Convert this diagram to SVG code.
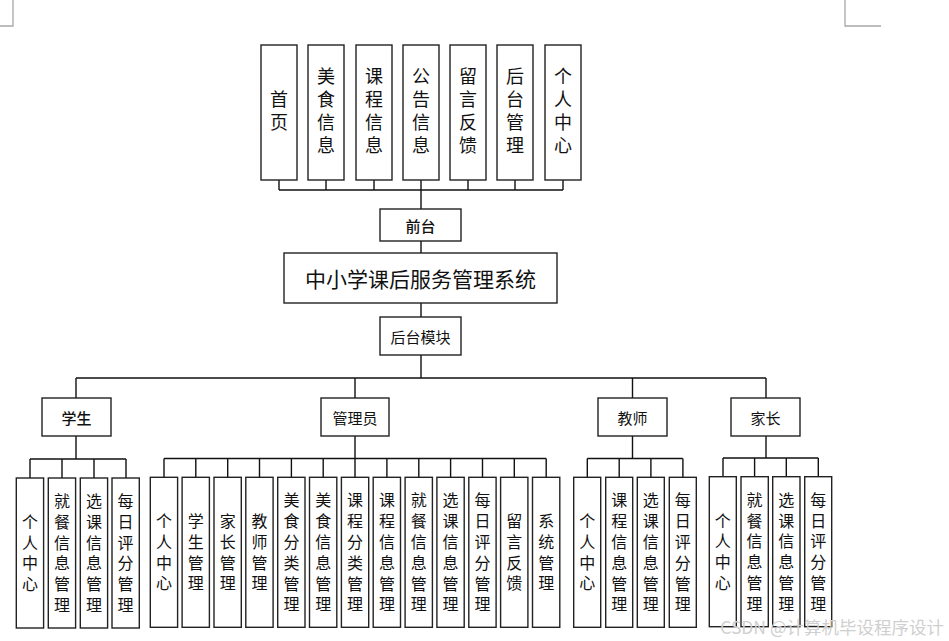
<svg xmlns="http://www.w3.org/2000/svg" width="949" height="641" viewBox="0 0 949 641">
<style>
.box{fill:#fff;stroke:#222;stroke-width:1.4}
.ln{fill:none;stroke:#111;stroke-width:1.4}
.crn{fill:none;stroke:#a8a8a8;stroke-width:1.3}
text{font-family:"Noto Sans CJK SC","Noto Sans",sans-serif;fill:#111;text-anchor:middle;dominant-baseline:central}
.top{font-size:18px;font-family:"Liberation Sans","Noto Sans CJK SC",sans-serif}
.mid{font-size:15px}
.title{font-size:21px}
.leaf{font-size:16px;font-family:"Liberation Sans","Noto Sans CJK SC",sans-serif}
.wm{font-size:17.5px;fill:#cfcfcf;text-anchor:end}
</style>
<rect width="949" height="641" fill="#fff"/>
<path class="crn" d="M13,0V26H0M845,0V26H881"/>
<g id="connectors">
<path class="ln" d="M279,180V190M326,180V190M374,180V190M421,180V190M468,180V190M515,180V190M563,180V190M279,190H563M421,190V209M421,241V253M421,303V317M421,355V378"/>
<path class="ln" d="M76,378H766M76,378V398M355,378V398M632.5,378V398M766,378V398"/>
<path class="ln" d="M76,436V459M30,459H126M30,459V478M62,459V478M94,459V478M126,459V478"/>
<path class="ln" d="M355,436V458.5M164,458.5H546.2M164,458.5V477.3M195.8,458.5V477.3M227.7,458.5V477.3M259.5,458.5V477.3M291.4,458.5V477.3M323.2,458.5V477.3M355,458.5V477.3M386.9,458.5V477.3M418.8,458.5V477.3M450.6,458.5V477.3M482.5,458.5V477.3M514.3,458.5V477.3M546.2,458.5V477.3"/>
<path class="ln" d="M632.5,436V458.5M587.3,458.5H682.7M587.3,458.5V477.3M619.2,458.5V477.3M650.9,458.5V477.3M682.9,458.5V477.3"/>
<path class="ln" d="M766,436V458M723,458H818.3M723,458V476.7M754.6,458V476.7M786.3,458V476.7M818.3,458V476.7"/>
</g>
<g id="n_home"><rect class="box" x="261" y="45" width="36" height="135"/><text class="top"><tspan x="279" y="99.5">首</tspan><tspan x="279" dy="23">页</tspan></text></g>
<g id="n_food"><rect class="box" x="308" y="45" width="36" height="135"/><text class="top"><tspan x="326" y="76.5">美</tspan><tspan x="326" dy="23">食</tspan><tspan x="326" dy="23">信</tspan><tspan x="326" dy="23">息</tspan></text></g>
<g id="n_course"><rect class="box" x="356" y="45" width="36" height="135"/><text class="top"><tspan x="374" y="76.5">课</tspan><tspan x="374" dy="23">程</tspan><tspan x="374" dy="23">信</tspan><tspan x="374" dy="23">息</tspan></text></g>
<g id="n_notice"><rect class="box" x="403" y="45" width="36" height="135"/><text class="top"><tspan x="421" y="76.5">公</tspan><tspan x="421" dy="23">告</tspan><tspan x="421" dy="23">信</tspan><tspan x="421" dy="23">息</tspan></text></g>
<g id="n_msg"><rect class="box" x="450" y="45" width="36" height="135"/><text class="top"><tspan x="468" y="76.5">留</tspan><tspan x="468" dy="23">言</tspan><tspan x="468" dy="23">反</tspan><tspan x="468" dy="23">馈</tspan></text></g>
<g id="n_back"><rect class="box" x="497" y="45" width="36" height="135"/><text class="top"><tspan x="515" y="76.5">后</tspan><tspan x="515" dy="23">台</tspan><tspan x="515" dy="23">管</tspan><tspan x="515" dy="23">理</tspan></text></g>
<g id="n_me"><rect class="box" x="545" y="45" width="36" height="135"/><text class="top"><tspan x="563" y="76.5">个</tspan><tspan x="563" dy="23">人</tspan><tspan x="563" dy="23">中</tspan><tspan x="563" dy="23">心</tspan></text></g>
<g id="n_front"><rect class="box" x="380" y="209" width="81" height="32"/><text class="mid" x="420.5" y="225" font-weight="500">前台</text></g>
<g id="n_sys"><rect class="box" x="284" y="253" width="273" height="50"/><text class="title" x="420.5" y="278">中小学课后服务管理系统</text></g>
<g id="n_backend"><rect class="box" x="380" y="317" width="81" height="38"/><text class="mid" x="420.5" y="336">后台模块</text></g>
<g id="n_student"><rect class="box" x="42" y="398" width="69" height="38"/><text class="mid" x="76.5" y="417" font-weight="500">学生</text></g>
<g id="n_admin"><rect class="box" x="321" y="398" width="68" height="38"/><text class="mid" x="355" y="417">管理员</text></g>
<g id="n_teacher"><rect class="box" x="598" y="398" width="69" height="38"/><text class="mid" x="632.5" y="417">教师</text></g>
<g id="n_parent"><rect class="box" x="731" y="398" width="69" height="38"/><text class="mid" x="765.5" y="417">家长</text></g>
<g id="s1"><rect class="box" x="16.3" y="478" width="27.3" height="150"/><text class="leaf"><tspan x="30" y="521.8">个</tspan><tspan x="30" dy="20.8">人</tspan><tspan x="30" dy="20.8">中</tspan><tspan x="30" dy="20.8">心</tspan></text></g>
<g id="s2"><rect class="box" x="48.3" y="478" width="27.3" height="150"/><text class="leaf"><tspan x="62" y="501">就</tspan><tspan x="62" dy="20.8">餐</tspan><tspan x="62" dy="20.8">信</tspan><tspan x="62" dy="20.8">息</tspan><tspan x="62" dy="20.8">管</tspan><tspan x="62" dy="20.8">理</tspan></text></g>
<g id="s3"><rect class="box" x="80.3" y="478" width="27.3" height="150"/><text class="leaf"><tspan x="94" y="501">选</tspan><tspan x="94" dy="20.8">课</tspan><tspan x="94" dy="20.8">信</tspan><tspan x="94" dy="20.8">息</tspan><tspan x="94" dy="20.8">管</tspan><tspan x="94" dy="20.8">理</tspan></text></g>
<g id="s4"><rect class="box" x="112" y="478" width="27.3" height="150"/><text class="leaf"><tspan x="125.6" y="501">每</tspan><tspan x="125.6" dy="20.8">日</tspan><tspan x="125.6" dy="20.8">评</tspan><tspan x="125.6" dy="20.8">分</tspan><tspan x="125.6" dy="20.8">管</tspan><tspan x="125.6" dy="20.8">理</tspan></text></g>
<g id="a1"><rect class="box" x="150.3" y="477.3" width="27.3" height="150"/><text class="leaf"><tspan x="164" y="521">个</tspan><tspan x="164" dy="20.8">人</tspan><tspan x="164" dy="20.8">中</tspan><tspan x="164" dy="20.8">心</tspan></text></g>
<g id="a2"><rect class="box" x="182.1" y="477.3" width="27.3" height="150"/><text class="leaf"><tspan x="195.8" y="521">学</tspan><tspan x="195.8" dy="20.8">生</tspan><tspan x="195.8" dy="20.8">管</tspan><tspan x="195.8" dy="20.8">理</tspan></text></g>
<g id="a3"><rect class="box" x="214" y="477.3" width="27.3" height="150"/><text class="leaf"><tspan x="227.7" y="521">家</tspan><tspan x="227.7" dy="20.8">长</tspan><tspan x="227.7" dy="20.8">管</tspan><tspan x="227.7" dy="20.8">理</tspan></text></g>
<g id="a4"><rect class="box" x="245.8" y="477.3" width="27.3" height="150"/><text class="leaf"><tspan x="259.5" y="521">教</tspan><tspan x="259.5" dy="20.8">师</tspan><tspan x="259.5" dy="20.8">管</tspan><tspan x="259.5" dy="20.8">理</tspan></text></g>
<g id="a5"><rect class="box" x="277.7" y="477.3" width="27.3" height="150"/><text class="leaf"><tspan x="291.4" y="500.3">美</tspan><tspan x="291.4" dy="20.8">食</tspan><tspan x="291.4" dy="20.8">分</tspan><tspan x="291.4" dy="20.8">类</tspan><tspan x="291.4" dy="20.8">管</tspan><tspan x="291.4" dy="20.8">理</tspan></text></g>
<g id="a6"><rect class="box" x="309.5" y="477.3" width="27.3" height="150"/><text class="leaf"><tspan x="323.2" y="500.3">美</tspan><tspan x="323.2" dy="20.8">食</tspan><tspan x="323.2" dy="20.8">信</tspan><tspan x="323.2" dy="20.8">息</tspan><tspan x="323.2" dy="20.8">管</tspan><tspan x="323.2" dy="20.8">理</tspan></text></g>
<g id="a7"><rect class="box" x="341.4" y="477.3" width="27.3" height="150"/><text class="leaf"><tspan x="355" y="500.3">课</tspan><tspan x="355" dy="20.8">程</tspan><tspan x="355" dy="20.8">分</tspan><tspan x="355" dy="20.8">类</tspan><tspan x="355" dy="20.8">管</tspan><tspan x="355" dy="20.8">理</tspan></text></g>
<g id="a8"><rect class="box" x="373.2" y="477.3" width="27.3" height="150"/><text class="leaf"><tspan x="386.9" y="500.3">课</tspan><tspan x="386.9" dy="20.8">程</tspan><tspan x="386.9" dy="20.8">信</tspan><tspan x="386.9" dy="20.8">息</tspan><tspan x="386.9" dy="20.8">管</tspan><tspan x="386.9" dy="20.8">理</tspan></text></g>
<g id="a9"><rect class="box" x="405.1" y="477.3" width="27.3" height="150"/><text class="leaf"><tspan x="418.8" y="500.3">就</tspan><tspan x="418.8" dy="20.8">餐</tspan><tspan x="418.8" dy="20.8">信</tspan><tspan x="418.8" dy="20.8">息</tspan><tspan x="418.8" dy="20.8">管</tspan><tspan x="418.8" dy="20.8">理</tspan></text></g>
<g id="a10"><rect class="box" x="436.9" y="477.3" width="27.3" height="150"/><text class="leaf"><tspan x="450.6" y="500.3">选</tspan><tspan x="450.6" dy="20.8">课</tspan><tspan x="450.6" dy="20.8">信</tspan><tspan x="450.6" dy="20.8">息</tspan><tspan x="450.6" dy="20.8">管</tspan><tspan x="450.6" dy="20.8">理</tspan></text></g>
<g id="a11"><rect class="box" x="468.8" y="477.3" width="27.3" height="150"/><text class="leaf"><tspan x="482.5" y="500.3">每</tspan><tspan x="482.5" dy="20.8">日</tspan><tspan x="482.5" dy="20.8">评</tspan><tspan x="482.5" dy="20.8">分</tspan><tspan x="482.5" dy="20.8">管</tspan><tspan x="482.5" dy="20.8">理</tspan></text></g>
<g id="a12"><rect class="box" x="500.6" y="477.3" width="27.3" height="150"/><text class="leaf"><tspan x="514.3" y="521">留</tspan><tspan x="514.3" dy="20.8">言</tspan><tspan x="514.3" dy="20.8">反</tspan><tspan x="514.3" dy="20.8">馈</tspan></text></g>
<g id="a13"><rect class="box" x="532.5" y="477.3" width="27.3" height="150"/><text class="leaf"><tspan x="546.2" y="521">系</tspan><tspan x="546.2" dy="20.8">统</tspan><tspan x="546.2" dy="20.8">管</tspan><tspan x="546.2" dy="20.8">理</tspan></text></g>
<g id="t1"><rect class="box" x="573.7" y="477.3" width="27" height="150"/><text class="leaf"><tspan x="587.2" y="521">个</tspan><tspan x="587.2" dy="20.8">人</tspan><tspan x="587.2" dy="20.8">中</tspan><tspan x="587.2" dy="20.8">心</tspan></text></g>
<g id="t2"><rect class="box" x="605.7" y="477.3" width="27" height="150"/><text class="leaf"><tspan x="619.2" y="500.3">课</tspan><tspan x="619.2" dy="20.8">程</tspan><tspan x="619.2" dy="20.8">信</tspan><tspan x="619.2" dy="20.8">息</tspan><tspan x="619.2" dy="20.8">管</tspan><tspan x="619.2" dy="20.8">理</tspan></text></g>
<g id="t3"><rect class="box" x="637.3" y="477.3" width="27" height="150"/><text class="leaf"><tspan x="650.8" y="500.3">选</tspan><tspan x="650.8" dy="20.8">课</tspan><tspan x="650.8" dy="20.8">信</tspan><tspan x="650.8" dy="20.8">息</tspan><tspan x="650.8" dy="20.8">管</tspan><tspan x="650.8" dy="20.8">理</tspan></text></g>
<g id="t4"><rect class="box" x="669.3" y="477.3" width="27" height="150"/><text class="leaf"><tspan x="682.8" y="500.3">每</tspan><tspan x="682.8" dy="20.8">日</tspan><tspan x="682.8" dy="20.8">评</tspan><tspan x="682.8" dy="20.8">分</tspan><tspan x="682.8" dy="20.8">管</tspan><tspan x="682.8" dy="20.8">理</tspan></text></g>
<g id="p1"><rect class="box" x="709.3" y="476.7" width="27" height="150"/><text class="leaf"><tspan x="722.8" y="520.5">个</tspan><tspan x="722.8" dy="20.8">人</tspan><tspan x="722.8" dy="20.8">中</tspan><tspan x="722.8" dy="20.8">心</tspan></text></g>
<g id="p2"><rect class="box" x="741" y="476.7" width="27.3" height="150"/><text class="leaf"><tspan x="754.6" y="499.7">就</tspan><tspan x="754.6" dy="20.8">餐</tspan><tspan x="754.6" dy="20.8">信</tspan><tspan x="754.6" dy="20.8">息</tspan><tspan x="754.6" dy="20.8">管</tspan><tspan x="754.6" dy="20.8">理</tspan></text></g>
<g id="p3"><rect class="box" x="772.7" y="476.7" width="27.3" height="150"/><text class="leaf"><tspan x="786.3" y="499.7">选</tspan><tspan x="786.3" dy="20.8">课</tspan><tspan x="786.3" dy="20.8">信</tspan><tspan x="786.3" dy="20.8">息</tspan><tspan x="786.3" dy="20.8">管</tspan><tspan x="786.3" dy="20.8">理</tspan></text></g>
<g id="p4"><rect class="box" x="804.7" y="476.7" width="27" height="150"/><text class="leaf"><tspan x="818.2" y="499.7">每</tspan><tspan x="818.2" dy="20.8">日</tspan><tspan x="818.2" dy="20.8">评</tspan><tspan x="818.2" dy="20.8">分</tspan><tspan x="818.2" dy="20.8">管</tspan><tspan x="818.2" dy="20.8">理</tspan></text></g>
<text class="wm" x="944" y="626">CSDN @计算机毕设程序设计</text>
</svg>
